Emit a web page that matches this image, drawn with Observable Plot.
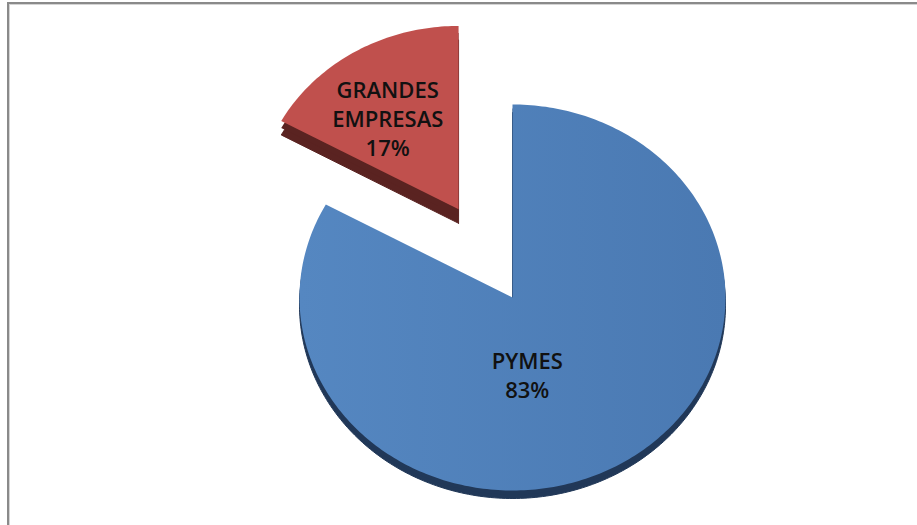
<!DOCTYPE html>
<html><head><meta charset="utf-8">
<script src="https://cdn.jsdelivr.net/npm/d3@7"></script>
<script src="https://cdn.jsdelivr.net/npm/@observablehq/plot@0.6"></script>
<style>
body{margin:0;background:#fff;}
#wrap{position:relative;width:917px;height:525px;overflow:hidden;background:#fff;}
#frame{position:absolute;left:7px;top:2px;width:1000px;height:1000px;border-left:2px solid #8a8a8a;border-top:2px solid #8a8a8a;box-shadow:inset 1px 1px 0 #d4d4d4;pointer-events:none;}
#wrap svg{position:absolute;left:0;top:0;}
</style></head><body><div id="wrap"><div id="frame"></div></div>
<script>
// ---- data ----
const categories = ["PYMES", "GRANDES EMPRESAS"];
const shares = [83, 17];
const labelLines = [["PYMES", "83%"], ["GRANDES", "EMPRESAS", "17%"]];
const explodedCategory = "GRANDES EMPRESAS";

// ---- build geometry from data ----
const EXPLODE = 0.525;      // explosion distance of the pulled-out slice
const BACK_SCALE = 0.95;    // perspective shrink of the pulled-out (farther) slice
const pie = d3.pie().sort(null).value(d => d.value)(categories.map((c, i) => ({name: c, value: shares[i], i})));
const polys = [];
const labelPts = [];
pie.forEach(p => {
  const mid = (p.startAngle + p.endAngle) / 2;
  const isEx = p.data.name === explodedCategory;
  const off = isEx ? EXPLODE : 0;
  const r = isEx ? BACK_SCALE : 1;
  const ox = off * Math.sin(mid), oy = off * Math.cos(mid);
  polys.push({name: p.data.name, x: ox, y: oy});
  const n = Math.max(4, Math.ceil((p.endAngle - p.startAngle) / (Math.PI / 180)));
  for (let j = 0; j <= n; j++) {
    const a = p.startAngle + (p.endAngle - p.startAngle) * j / n;
    polys.push({name: p.data.name, x: ox + r * Math.sin(a), y: oy + r * Math.cos(a)});
  }
  polys.push({name: p.data.name, x: ox, y: oy});
  const lr = isEx ? 0.58 : 0.45;
  labelPts.push({name: p.data.name, x: ox + lr * Math.sin(mid), y: oy + lr * Math.cos(mid),
                 text: labelLines[p.data.i].join("\n")});
});

const faceColor = {"PYMES": "url(#gBlue)", "GRANDES EMPRESAS": "#C0504D"};
const sideColor = {"PYMES": "#213858", "GRANDES EMPRESAS": "#5A2321"};
const blue = polys.filter(d => d.name !== explodedCategory);
const red = polys.filter(d => d.name === explodedCategory);

const textStyle = {x: "x", y: "y", text: "text", fontSize: 22, fontWeight: 600, fill: "#111",
  lineHeight: 1.3, fontFamily: "'Open Sans', sans-serif"};

const chart = Plot.plot({
  width: 917, height: 525,
  margin: 0,
  x: {domain: [-1, 1], range: [299, 725], axis: null},
  y: {domain: [-1, 1], range: [490, 104], axis: null},
  marks: [
    // 3D sides (extruded copies)
    Plot.line(red, {x: "x", y: "y", dx: 3, dy: 13, fill: sideColor[explodedCategory], stroke: sideColor[explodedCategory], strokeWidth: 1}),
    Plot.line(red, {x: "x", y: "y", dx: 3, dy: 6, fill: sideColor[explodedCategory], stroke: "none"}),
    Plot.line(red, {x: "x", y: "y", dx: 3, dy: -1, fill: faceColor[explodedCategory], stroke: "none"}),
    Plot.line(blue, {x: "x", y: "y", dy: 8, fill: sideColor["PYMES"], stroke: sideColor["PYMES"], strokeWidth: 1}),
    Plot.line(blue, {x: "x", y: "y", dy: 4, fill: sideColor["PYMES"], stroke: "none"}),
    Plot.line(blue, {x: "x", y: "y", fill: faceColor["PYMES"], stroke: "none"}),
    Plot.text(labelPts.filter(d => d.name !== explodedCategory), {...textStyle, dx: -34, dy: 2}),
    Plot.text(labelPts.filter(d => d.name === explodedCategory), {...textStyle, dx: -5, dy: 4})
  ]
});
const defs = d3.select(chart).insert("defs", ":first-child");
const g = defs.append("linearGradient").attr("id", "gBlue").attr("x1", "0").attr("x2", "1").attr("y1", "0").attr("y2", "0");
g.append("stop").attr("offset", "0").attr("stop-color", "#5587C1");
g.append("stop").attr("offset", "1").attr("stop-color", "#4A79B2");
document.getElementById("wrap").prepend(chart);
</script>
</body></html>
